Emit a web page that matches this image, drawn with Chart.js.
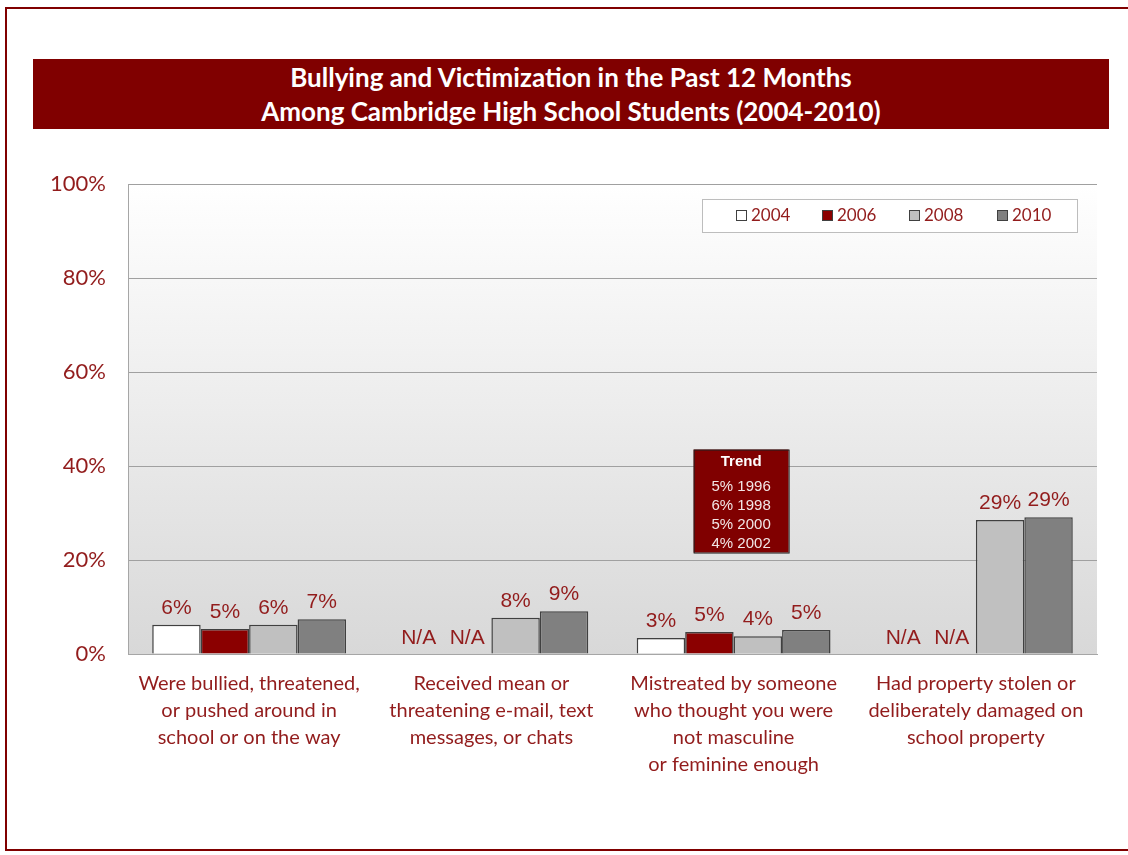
<!DOCTYPE html>
<html>
<head>
<meta charset="utf-8">
<script src="https://cdn.jsdelivr.net/npm/chart.js@4.4.0/dist/chart.umd.min.js"></script>
<style>
    html, body { margin: 0; padding: 0; background: #fff; }
    #page { position: relative; width: 1128px; height: 855px; overflow: hidden; }
    #frame { position: absolute; left: 5px; top: 7px; width: 1140px; height: 844px; border: 2px solid #800000; box-sizing: border-box; }
    #banner { position: absolute; left: 33px; top: 59px; width: 1076px; height: 70px; background: #800000;
        color: #fff; font-family: Lato, sans-serif; font-weight: bold; font-size: 26px; line-height: 34px; text-align: center; padding-top: 1px; box-sizing: border-box; }
    #chartBox { position: absolute; left: 0; top: 0; width: 1128px; height: 855px; }
</style>
</head>
<body>
<div id="page">
    <div id="frame"></div>
    <div id="banner">Bullying and Victimization in the Past 12 Months<br>Among Cambridge High School Students (2004-2010)</div>
    <div id="chartBox"><canvas id="bullyChart" width="1128" height="855"></canvas></div>
</div>
<script>
// chart data
const categories = [
    ['Were bullied, threatened,', 'or pushed around in', 'school or on the way'],
    ['Received mean or', 'threatening e-mail, text', 'messages, or chats'],
    ['Mistreated by someone', 'who thought you were', 'not masculine', 'or feminine enough'],
    ['Had property stolen or', 'deliberately damaged on', 'school property']
];
const years = ['2004', '2006', '2008', '2010'];
const values2004 = [6.2, null, 3.4, null];
const values2006 = [5.3, null, 4.7, null];
const values2008 = [6.2, 7.7, 3.8, 28.5];
const values2010 = [7.4, 9.1, 5.1, 29.1];
const yTicks = [0, 20, 40, 60, 80, 100];
const trendLines = ['5% 1996', '6% 1998', '5% 2000', '4% 2002'];

const barColors = ['#ffffff', '#8b0000', '#c0c0c0', '#808080'];
const textRed = '#921c1c';

const seriesValues = [values2004, values2006, values2008, values2010];

// background gradient + labels + trend box + legend
const decorPlugin = {
    id: 'decor',
    beforeDraw(chart) {
        const { ctx, chartArea: a } = chart;
        const g = ctx.createLinearGradient(0, a.top, 0, a.bottom);
        g.addColorStop(0, '#ffffff');
        g.addColorStop(1, '#d8d8d8');
        ctx.save();
        ctx.fillStyle = g;
        ctx.fillRect(a.left, a.top, a.right - a.left, a.bottom - a.top);
        ctx.restore();
    },
    afterDatasetsDraw(chart) {
        const { ctx } = chart;
        const yScale = chart.scales.y;
        ctx.save();
        ctx.font = '21px "Liberation Sans", Arial, sans-serif';
        ctx.fillStyle = textRed;
        ctx.textAlign = 'center';
        ctx.textBaseline = 'alphabetic';
        chart.data.datasets.forEach((ds, i) => {
            const meta = chart.getDatasetMeta(i);
            meta.data.forEach((bar, j) => {
                const v = ds.data[j];
                if (v === null) {
                    ctx.fillText('N/A', bar.x, yScale.getPixelForValue(0) - 10);
                } else {
                    ctx.fillText(Math.round(v) + '%', bar.x, bar.y - 11);
                }
            });
        });
        ctx.restore();

        // trend box next to the third category
        const xScale = chart.scales.x;
        const bx = xScale.getPixelForValue(2) - 40;
        const by = yScale.getPixelForValue(43.5);
        const bw = 95, bh = 103;
        ctx.save();
        ctx.fillStyle = '#800000';
        ctx.fillRect(bx, by, bw, bh);
        ctx.strokeStyle = '#222';
        ctx.lineWidth = 1;
        ctx.strokeRect(bx + 0.5, by + 0.5, bw, bh);
        ctx.fillStyle = '#fff';
        ctx.textAlign = 'center';
        ctx.textBaseline = 'middle';
        ctx.font = 'bold 15px "Liberation Sans", Arial, sans-serif';
        ctx.fillText('Trend', bx + bw / 2, by + 12);
        ctx.font = '15px "Liberation Sans", Arial, sans-serif';
        ctx.fillStyle = '#f2e6e6';
        trendLines.forEach((t, k) => {
            ctx.fillText(t, bx + bw / 2, by + 37 + k * 19);
        });
        ctx.restore();

        // legend box
        const lx = 702, ly = 199, lw = 375, lh = 33;
        ctx.save();
        ctx.fillStyle = '#fff';
        ctx.fillRect(lx, ly, lw, lh);
        ctx.strokeStyle = '#bdbdbd';
        ctx.lineWidth = 1;
        ctx.strokeRect(lx + 0.5, ly + 0.5, lw, lh);
        ctx.font = '17px Lato, sans-serif';
        ctx.textBaseline = 'middle';
        ctx.textAlign = 'left';
        const itemX = [736, 822, 909, 997];
        years.forEach((yr, k) => {
            ctx.fillStyle = barColors[k];
            ctx.fillRect(itemX[k], ly + 11, 11, 11);
            ctx.strokeStyle = '#404040';
            ctx.strokeRect(itemX[k] + 0.5, ly + 11.5, 10, 10);
            ctx.fillStyle = textRed;
            ctx.fillText(yr, itemX[k] + 15, ly + 17);
        });
        ctx.restore();
    }
};

const ctx = document.getElementById('bullyChart').getContext('2d');
new Chart(ctx, {
    type: 'bar',
    data: {
        labels: categories,
        datasets: years.map((yr, i) => ({
            label: yr,
            data: seriesValues[i],
            backgroundColor: barColors[i],
            borderColor: '#404040',
            borderWidth: 1.5,
            categoryPercentage: 0.8,
            barPercentage: 1.0
        }))
    },
    options: {
        responsive: false,
        animation: false,
        layout: { padding: { top: 184, right: 31, left: 0, bottom: 0 } },
        scales: {
            x: {
                grid: { display: false },
                border: { color: '#a6a6a6' },
                ticks: {
                    color: textRed,
                    font: { family: 'Lato, sans-serif', size: 20, lineHeight: '27px' },
                    padding: 8,
                    maxRotation: 0,
                    autoSkip: false
                },
                afterFit(scale) { scale.height = 201; }
            },
            y: {
                min: 0,
                max: 100,
                afterBuildTicks(scale) { scale.ticks = yTicks.map(v => ({ value: v })); },
                grid: { color: '#a0a0a0', drawTicks: false },
                border: { color: '#a6a6a6' },
                ticks: {
                    color: textRed,
                    font: { family: 'Lato, sans-serif', size: 22 },
                    padding: 22,
                    callback: v => v + '%'
                },
                afterFit(scale) { scale.width = 128; }
            }
        },
        plugins: {
            legend: { display: false },
            tooltip: { enabled: false }
        }
    },
    plugins: [decorPlugin]
});
</script>
</body>
</html>
